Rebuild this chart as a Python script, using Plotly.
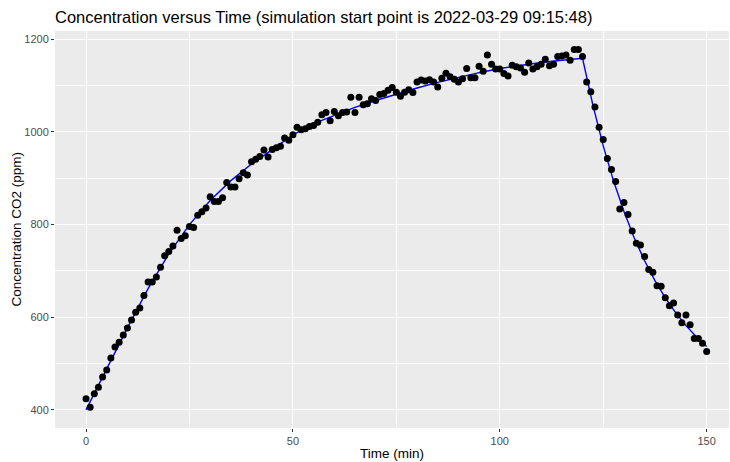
import plotly.graph_objects as go

# Measured CO2 concentration, one reading per minute
time_min = list(range(0, 151))
co2_ppm = [
    424, 406, 435, 449, 471, 486, 512, 536, 546, 562,
    577, 594, 611, 620, 647, 676, 676, 687, 708, 733,
    742, 754, 788, 770, 776, 796, 794, 820, 828, 836,
    860, 850, 850, 858, 891, 881, 881, 899, 912, 907,
    936, 941, 947, 961, 946, 962, 966, 969, 987, 982,
    994, 1010, 1005, 1007, 1012, 1014, 1021, 1037, 1042, 1024,
    1044, 1035, 1042, 1043, 1075, 1042, 1075, 1059, 1061, 1072,
    1068, 1081, 1083, 1090, 1096, 1086, 1077, 1086, 1091, 1085,
    1108, 1112, 1110, 1113, 1108, 1097, 1116, 1127, 1119, 1114,
    1108, 1115, 1137, 1117, 1117, 1142, 1131, 1166, 1146, 1136,
    1136, 1126, 1121, 1144, 1141, 1138, 1129, 1149, 1136, 1141,
    1146, 1157, 1143, 1146, 1163, 1164, 1166, 1155, 1178, 1178,
    1163, 1108, 1087, 1054, 1010, 984, 943, 919, 893, 834,
    848, 822, 786, 760, 756, 731, 703, 697, 668, 667,
    642, 625, 631, 605, 588, 605, 584, 554, 554, 544,
    526,
]

# Simulated concentration curve
model_time = [0, 5, 10, 15, 20, 25, 30, 35, 40, 45, 50, 55, 60, 65, 70, 75,
              80, 85, 90, 95, 100, 105, 110, 115, 120,
              122.5, 125, 127.5, 130, 132.5, 135, 137.5, 140, 142.5, 145, 147.5, 150]
model_ppm = [400, 490, 577, 662, 737, 800, 852, 895, 931, 962, 994, 1018, 1036, 1053, 1068, 1082,
             1095, 1107, 1118, 1128, 1137, 1144, 1150, 1155, 1159,
             1058, 970, 894, 829, 771, 722, 679, 642, 610, 582, 558, 537]

x_ticks = [0, 50, 100, 150]
y_ticks = [400, 600, 800, 1000, 1200]

FONT = "Liberation Sans, Arial, sans-serif"

fig = go.Figure()
fig.add_trace(go.Scatter(
    x=model_time, y=model_ppm, mode="lines",
    line=dict(color="#0000FF", width=1.4), hoverinfo="skip", showlegend=False,
))
fig.add_trace(go.Scatter(
    x=time_min, y=co2_ppm, mode="markers",
    marker=dict(color="black", size=7, line=dict(width=0)), showlegend=False,
))

axis_common = dict(
    showgrid=True, gridcolor="white", gridwidth=1.4,
    zeroline=False, showline=False,
    ticks="outside", ticklen=3, tickwidth=1, tickcolor="#333333",
    tickfont=dict(family=FONT, size=11, color="#4D4D4D"),
)

fig.update_xaxes(
    range=[-7.5, 155.4], tickvals=x_ticks, ticktext=[str(v) for v in x_ticks],
    minor=dict(tickvals=[25, 75, 125], showgrid=True, gridcolor="white", gridwidth=0.7, ticks=""),
    **axis_common,
)
fig.update_yaxes(
    range=[361, 1218], tickvals=y_ticks, ticktext=[str(v) for v in y_ticks],
    minor=dict(tickvals=[500, 700, 900, 1100], showgrid=True, gridcolor="white", gridwidth=0.7, ticks=""),
    **axis_common,
)

fig.update_layout(
    width=730, height=462,
    margin=dict(l=55, r=1, t=31, b=34, autoexpand=False),
    paper_bgcolor="white", plot_bgcolor="#EBEBEB",
    title=dict(
        text="Concentration versus Time (simulation start point is 2022-03-29 09:15:48)",
        font=dict(family=FONT, size=16.5, color="black"),
        xref="paper", x=0, xanchor="left",
        yref="container", y=1 - 17 / 462, yanchor="middle",
    ),
    annotations=[
        dict(text="Time (min)", xref="paper", yref="paper",
             x=0.5, y=-25 / 397, xanchor="center", yanchor="middle", showarrow=False,
             font=dict(family=FONT, size=13.5, color="black")),
        dict(text="Concentration CO2 (ppm)", xref="paper", yref="paper",
             x=(16 - 55) / 674, y=0.5, xanchor="center", yanchor="middle",
             textangle=-90, showarrow=False,
             font=dict(family=FONT, size=13.5, color="black")),
    ],
)

fig.write_html("out.html")
